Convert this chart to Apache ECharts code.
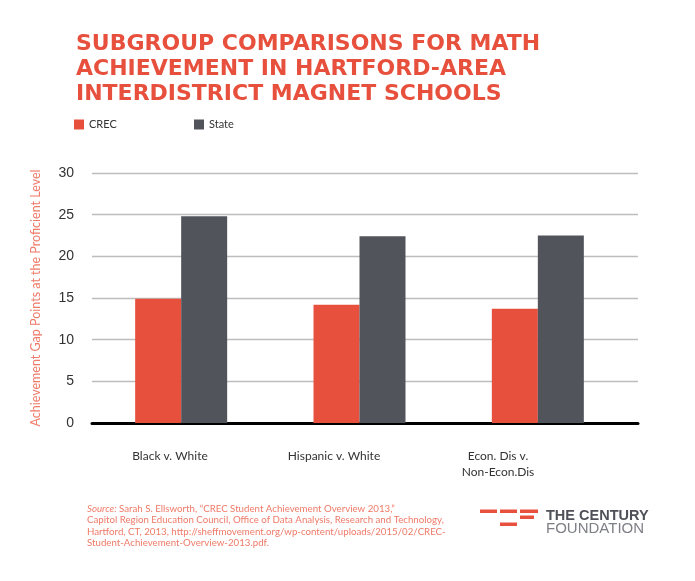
<!DOCTYPE html>
<html>
<head>
<meta charset="utf-8">
<script src="https://cdn.jsdelivr.net/npm/echarts@6/dist/echarts.min.js"></script>
<style>html,body{margin:0;padding:0;background:#fff;}#chart{width:695px;height:581px;}</style>
</head>
<body>
<div id="chart"></div>
<script>
const categories = ['Black v. White', 'Hispanic v. White', 'Econ. Dis v.\nNon-Econ.Dis'];
const crecValues = [14.9, 14.2, 13.7];
const stateValues = [24.8, 22.4, 22.5];
const yTicks = [0, 5, 10, 15, 20, 25, 30];
const seriesNames = ['CREC', 'State'];
const titleLines = ['SUBGROUP COMPARISONS FOR MATH', 'ACHIEVEMENT IN HARTFORD-AREA', 'INTERDISTRICT MAGNET SCHOOLS'];
const sourceLines = [
  'Sarah S. Ellsworth, \u201cCREC Student Achievement Overview 2013,\u201d',
  'Capitol Region Education Council, Office of Data Analysis, Research and Technology,',
  'Hartford, CT, 2013, http://sheffmovement.org/wp-content/uploads/2015/02/CREC-',
  'Student-Achievement-Overview-2013.pdf.'
];

const RED = '#e8503e';
const GREY = '#52545c';
const SALMON = '#ef7a68';

const chart = echarts.init(document.getElementById('chart'), null, {renderer: 'canvas'});
const yMin = yTicks[0], yMax = yTicks[yTicks.length - 1], yStep = yTicks[1] - yTicks[0];

const option = {
  animation: false,
  backgroundColor: '#ffffff',
  title: {
    text: titleLines.join('\n'),
    left: 76, top: 32, padding: 0,
    textStyle: {fontFamily: 'DejaVu Sans', fontWeight: 'bold', fontSize: 22, lineHeight: 25, color: RED}
  },
  legend: [
    {data: [seriesNames[0]], left: 74, top: 119, padding: 0, itemWidth: 10, itemHeight: 10, icon: 'rect', itemGap: 5,
     textStyle: {fontFamily: 'Lato', fontSize: 11, color: '#333'}},
    {data: [seriesNames[1]], left: 194, top: 119, padding: 0, itemWidth: 10, itemHeight: 10, icon: 'rect', itemGap: 5,
     textStyle: {fontFamily: 'Lato', fontSize: 11, color: '#333'}}
  ],
  grid: [
    {left: 92, right: 57, top: 173, bottom: 158},   // gridlines + y axis
    {left: 92, width: 535, top: 173, bottom: 158},  // bars
    {left: 88, width: 492, top: 173, bottom: 158}   // category labels
  ],
  xAxis: [
    {type: 'category', gridIndex: 0, data: categories,
     axisLine: {show: true, lineStyle: {color: '#000', width: 3}}, axisTick: {show: false}, axisLabel: {show: false}},
    {type: 'category', gridIndex: 1, data: categories,
     axisLine: {show: false}, axisTick: {show: false}, axisLabel: {show: false}},
    {type: 'category', gridIndex: 2, data: categories,
     axisLine: {show: false}, axisTick: {show: false},
     axisLabel: {show: true, margin: 25, fontFamily: 'Lato', fontSize: 12, lineHeight: 16, color: '#333'}}
  ],
  yAxis: [
    {type: 'value', gridIndex: 0, min: yMin, max: yMax, interval: yStep,
     name: 'Achievement Gap Points at the Proficient Level', nameLocation: 'middle', nameGap: 50,
     nameTextStyle: {fontFamily: 'Lato', fontSize: 12.5, color: SALMON},
     axisLine: {show: false}, axisTick: {show: false},
     axisLabel: {margin: 18, fontFamily: 'Liberation Sans', fontSize: 14, color: '#333'},
     splitLine: {show: true, lineStyle: {color: '#bdbdbd', width: 1.3}}},
    {type: 'value', gridIndex: 1, min: yMin, max: yMax, interval: yStep, show: false, splitLine: {show: false}},
    {type: 'value', gridIndex: 2, min: yMin, max: yMax, interval: yStep, show: false, splitLine: {show: false}}
  ],
  series: [
    {name: seriesNames[0], type: 'bar', xAxisIndex: 1, yAxisIndex: 1, data: crecValues,
     barWidth: 46, barGap: '0%', itemStyle: {color: RED}, z: 3},
    {name: seriesNames[1], type: 'bar', xAxisIndex: 1, yAxisIndex: 1, data: stateValues,
     barWidth: 46, barGap: '0%', itemStyle: {color: GREY}, z: 3}
  ],
  graphic: [
    {type: 'text', left: 87, top: 503, style: {
      text: '{i|Source:} ' + sourceLines[0] + '\n' + sourceLines.slice(1).join('\n'),
      fontFamily: 'Lato', fontSize: 9.7, lineHeight: 11.5, fill: SALMON,
      rich: {i: {fontStyle: 'italic', fontFamily: 'Lato', fontSize: 9.7, fill: SALMON}}
    }},
    {type: 'rect', shape: {x: 480, y: 509.5, width: 17, height: 3.5}, style: {fill: RED}},
    {type: 'rect', shape: {x: 500, y: 509.5, width: 17, height: 3.5}, style: {fill: RED}},
    {type: 'rect', shape: {x: 520, y: 509.5, width: 18, height: 3.5}, style: {fill: RED}},
    {type: 'rect', shape: {x: 520, y: 515.5, width: 14, height: 3.5}, style: {fill: RED}},
    {type: 'rect', shape: {x: 500, y: 522.5, width: 17, height: 3.5}, style: {fill: RED}},
    {type: 'text', left: 546, top: 508, style: {text: 'THE CENTURY', fontFamily: 'Liberation Sans', fontWeight: 'bold', fontSize: 14.5, fill: '#4f5158'}},
    {type: 'text', left: 546, top: 521, style: {text: 'FOUNDATION', fontFamily: 'Liberation Sans', fontSize: 15, fill: '#7d7f85'}}
  ]
};
chart.setOption(option);
</script>
</body>
</html>
